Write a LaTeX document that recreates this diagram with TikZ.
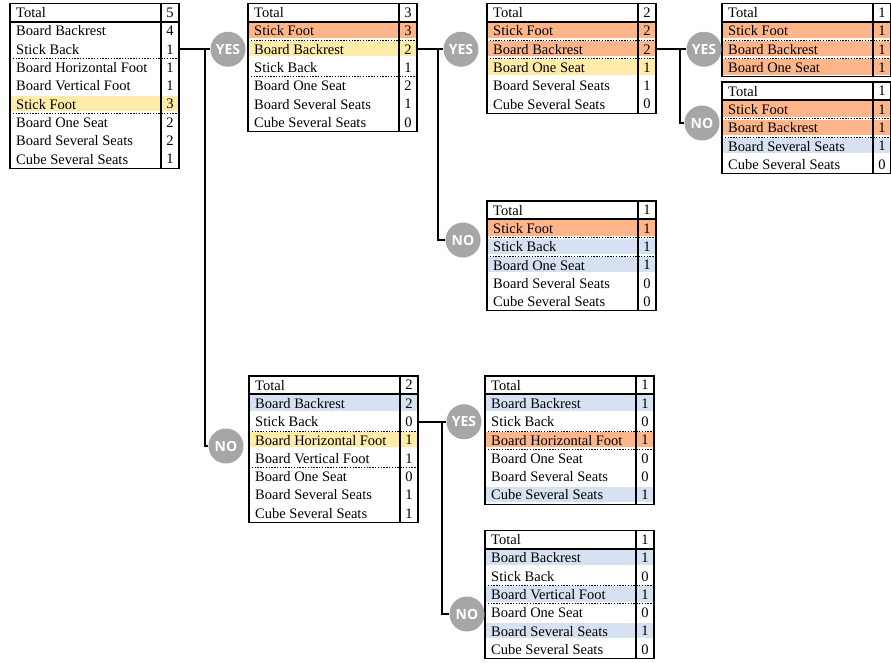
\documentclass[tikz,border=0pt]{standalone}
\usepackage{fontspec}
\setmainfont{Liberation Serif}
\newfontfamily\answerfont{Open Sans}

\definecolor{Pick}{HTML}{FDB589}
\definecolor{Cand}{HTML}{FFECA8}
\definecolor{Rest}{HTML}{D6E1F2}
\definecolor{Bubble}{HTML}{A6A6A6}

\tikzset{
  cellname/.style={anchor=west, inner sep=0pt, font=\fontsize{14.5}{16}\selectfont},
  cellval/.style={minimum width=18pt, minimum height=18.3pt, inner sep=0pt, font=\fontsize{14.5}{16}\selectfont},
  dotsep/.style={line width=0.7pt, dash pattern=on 1.4pt off 1.4pt},
  nosep/.style={draw=none},
  frame/.style={line width=1.1pt},
  totalrule/.style={line width=1.7pt},
  link/.style={line width=2pt},
  answer/.style={circle, fill=Bubble, minimum size=35pt, inner sep=0pt, text=white, font=\answerfont\bfseries\fontsize{14}{14}\selectfont},
}

% #1 name, #2 left, #3 top, #4 total, #5 rows label/value/fill/separator
\newcommand{\drawtab}[5]{
  \begin{scope}[shift={(#2,#3)}]
    \node[cellname] (#1-0) at (6,9.15) {Total};
    \node[cellval] (#1v0) at (160,9.15) {#4};
    \foreach \lab/\val/\hl/\sep [count=\i] in {#5} {
      \fill[\hl] (0,\i*18.3+1) rectangle (169,\i*18.3+16.3);
      \node[cellname] (#1-\i) at (6,\i*18.3+9.15) {\lab};
      \node[cellval] (#1v\i) at (160,\i*18.3+9.15) {\val};
      \draw[\sep] (0,\i*18.3+18.3) -- (169,\i*18.3+18.3);
      \xdef\nrows{\i}
    }
    \draw[frame] (0,0) rectangle (169,\nrows*18.3+18.3);
    \draw[frame] (151,0) -- (151,\nrows*18.3+18.3);
    \draw[totalrule] (0,18.3) -- (169,18.3);
  \end{scope}}

\begin{document}
\begin{tikzpicture}[x=1pt, y=-1pt]

\useasboundingbox (0,0) rectangle (891,662);

%%%%%%%%%% Tables %%%%%%%%%%

 \drawtab{T0}{10}{3.5}{5}{Board Backrest/4/white/nosep, Stick Back/1/white/dotsep,
   Board Horizontal Foot/1/white/nosep, Board Vertical Foot/1/white/nosep,
   Stick Foot/3/Cand/dotsep, Board One Seat/2/white/nosep,
   Board Several Seats/2/white/nosep, Cube Several Seats/1/white/nosep}

 \drawtab{T1}{248}{3.5}{3}{Stick Foot/3/Pick/dotsep, Board Backrest/2/Cand/nosep,
   Stick Back/1/white/dotsep, Board One Seat/2/white/nosep,
   Board Several Seats/1/white/nosep, Cube Several Seats/0/white/nosep}

 \drawtab{T11}{487}{3.5}{2}{Stick Foot/2/Pick/dotsep, Board Backrest/2/Pick/dotsep,
   Board One Seat/1/Cand/nosep, Board Several Seats/1/white/nosep,
   Cube Several Seats/0/white/nosep}

 \drawtab{T111}{722}{3.5}{1}{Stick Foot/1/Pick/dotsep, Board Backrest/1/Pick/dotsep,
   Board One Seat/1/Pick/nosep}

 \drawtab{T112}{722}{82}{1}{Stick Foot/1/Pick/dotsep, Board Backrest/1/Pick/dotsep,
   Board Several Seats/1/Rest/nosep, Cube Several Seats/0/white/nosep}

 \drawtab{T12}{487}{201}{1}{Stick Foot/1/Pick/dotsep, Stick Back/1/Rest/dotsep,
   Board One Seat/1/Rest/nosep, Board Several Seats/0/white/nosep,
   Cube Several Seats/0/white/nosep}

 \drawtab{T2}{249}{376}{2}{Board Backrest/2/Rest/nosep, Stick Back/0/white/dotsep,
   Board Horizontal Foot/1/Cand/nosep, Board Vertical Foot/1/white/dotsep,
   Board One Seat/0/white/nosep, Board Several Seats/1/white/nosep,
   Cube Several Seats/1/white/nosep}

 \drawtab{T21}{485}{376}{1}{Board Backrest/1/Rest/nosep, Stick Back/0/white/dotsep,
   Board Horizontal Foot/1/Pick/dotsep, Board One Seat/0/white/nosep,
   Board Several Seats/0/white/nosep, Cube Several Seats/1/Rest/nosep}

 \drawtab{T22}{485}{530.5}{1}{Board Backrest/1/Rest/nosep, Stick Back/0/white/dotsep,
   Board Vertical Foot/1/Rest/dotsep, Board One Seat/0/white/nosep,
   Board Several Seats/1/Rest/nosep, Cube Several Seats/0/white/nosep}

%%%%%%%%%% Answers %%%%%%%%%%

 \node[answer] (yes0) at (228,49.25) {YES};
 \node[answer] (no0) at (226,446) {NO};
 \node[answer] (yes1) at (461,49.25) {YES};
 \node[answer] (no1) at (463,240) {NO};
 \node[answer] (yes11) at (704,49.25) {YES};
 \node[answer] (no11) at (702,123) {NO};
 \node[answer] (yes2) at (464,421.75) {YES};
 \node[answer] (no2) at (467,614) {NO};

 \coordinate (j0) at (204.5,49.25);
 \coordinate (j1) at (438,49.25);
 \coordinate (j11) at (680,49.25);
 \coordinate (j2) at (442,421.75);

%%%%%%%%%% Branches %%%%%%%%%%

 \draw[link] (T0v2.east) -- (yes0.west);
 \draw[link] (j0) |- (no0.west);
 \draw[link] (T1v2.east) -- (yes1.west);
 \draw[link] (j1) |- (no1.west);
 \draw[link] (T11v2.east) -- (yes11.west);
 \draw[link] (j11) |- (no11.west);
 \draw[link] (T2v2.east) -- (yes2.west);
 \draw[link] (j2) |- (no2.west);

\end{tikzpicture}
\end{document}
